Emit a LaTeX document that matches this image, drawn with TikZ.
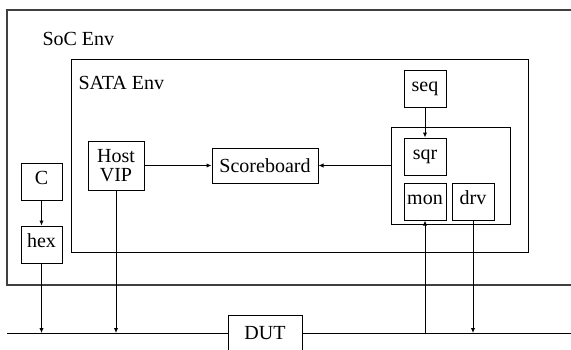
\documentclass[tikz,border=0pt]{standalone}
\usepackage{fontspec}
\setmainfont{Liberation Serif}
\usepackage{tikz}
\usetikzlibrary{arrows.meta}

\begin{document}
\begin{tikzpicture}[
  x=1pt, y=-1pt,
  line width=1pt,
  every node/.style={font=\fontsize{20}{18.5}\selectfont},
  blk/.style={
    rectangle,
    draw,
    inner sep=0pt,
    align=center
  },
  unit/.style={
    blk,
    minimum width=42,
    minimum height=37,
    text height=1.45ex,
    text depth=0.3ex
  },
  lbl/.style={anchor=west, inner sep=0pt},
  env/.style={line width=1.5pt, black!75},
  arr/.style={-{Latex[length=5pt,width=4.5pt]}}
]
\useasboundingbox (0,0) rectangle (571,349);
\clip (0,0) rectangle (571,349);
% SoC environment, open on the right
\draw[env] (571,10) -| (7,285) -- (571,285);
\node[lbl] (soclbl) at (42,38.5) {SoC Env};
% SATA environment
\node[blk, minimum width=457, minimum height=193] (sata) at (299.5,155.5) {};
\node[lbl] (satalbl) at (78,82.5) {SATA Env};
\node[blk, minimum width=56, minimum height=49] (host) at (116,165.5) {Host\\VIP};
\node[blk, minimum width=106, minimum height=35] (score) at (265,165.5) {Scoreboard};
% agent
\node[blk, minimum width=119, minimum height=97] (agent) at (450.5,175.5) {};
\node[unit] (seq) at (425,88.5) {seq};
\node[unit] (sqr) at (425,156.5) {sqr};
\node[unit] (mon) at (425,201.5) {mon};
\node[unit] (drv) at (473,201.5) {drv};
% C side
\node[unit, minimum width=41] (c)   at (41.5,181.5) {C};
\node[unit, minimum width=41] (hex) at (41.5,244.5) {hex};
% DUT and bus
\node[blk, minimum width=74, minimum height=36] (dut) at (265,333) {DUT};
\coordinate (busL) at (7,333);
\coordinate (busR) at (571,333);
\draw (busL) -- (dut);
\draw (dut) -- (busR);
\draw[arr] (c) -- (hex);
\draw[arr] (seq) -- (sqr);
\draw[arr] (host) -- (score);
\draw[arr] (agent.west |- score) -- (score);
\draw[arr] (hex) -- (hex |- busL);
\draw[arr] (host) -- (host |- busL);
\draw[arr] (mon |- busL) -- (mon);
\draw[arr] (drv) -- (drv |- busL);
\end{tikzpicture}
\end{document}
